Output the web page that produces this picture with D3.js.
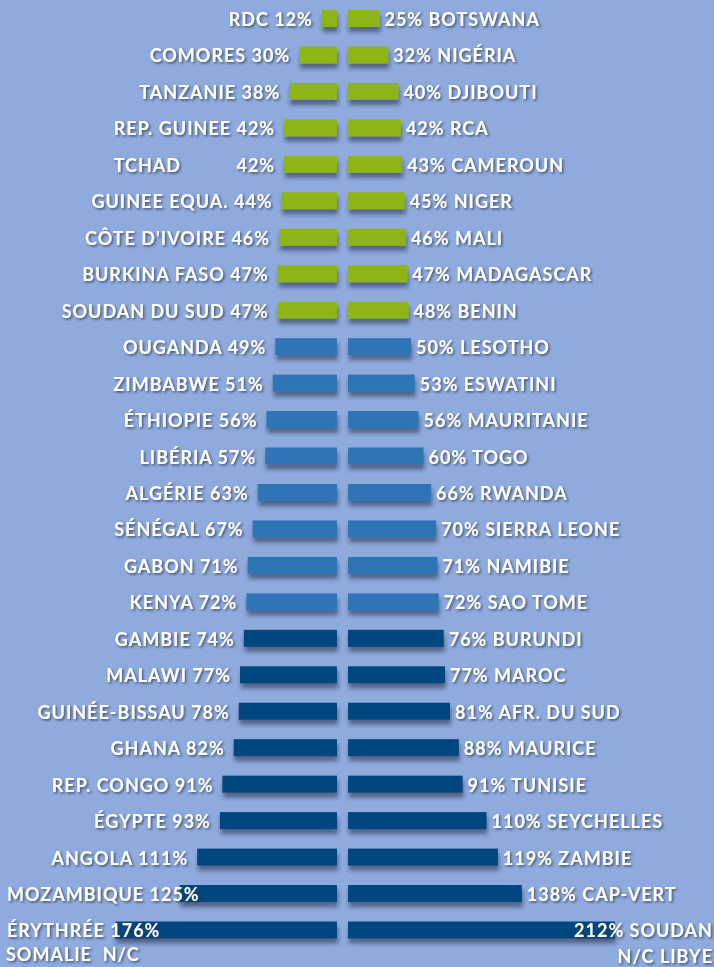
<!DOCTYPE html>
<html><head><meta charset="utf-8">
<script src="https://cdn.jsdelivr.net/npm/d3@7"></script>
<style>
html,body{margin:0;padding:0;background:#8FAADC;overflow:hidden}
svg{display:block}
text{font-family:"Lato","Open Sans",sans-serif;font-weight:700;fill:#fff;letter-spacing:1px}
</style></head><body>
<svg id="c" width="714" height="967"></svg>
<script>
const leftNames = ["RDC","COMORES","TANZANIE","REP. GUINEE","TCHAD","GUINEE EQUA.","CÔTE D'IVOIRE","BURKINA FASO","SOUDAN DU SUD","OUGANDA","ZIMBABWE","ÉTHIOPIE","LIBÉRIA","ALGÉRIE","SÉNÉGAL","GABON","KENYA","GAMBIE","MALAWI","GUINÉE-BISSAU","GHANA","REP. CONGO","ÉGYPTE","ANGOLA","MOZAMBIQUE","ÉRYTHRÉE"];
const leftValues = [12,30,38,42,42,44,46,47,47,49,51,56,57,63,67,71,72,74,77,78,82,91,93,111,125,176];
const rightNames = ["BOTSWANA","NIGÉRIA","DJIBOUTI","RCA","CAMEROUN","NIGER","MALI","MADAGASCAR","BENIN","LESOTHO","ESWATINI","MAURITANIE","TOGO","RWANDA","SIERRA LEONE","NAMIBIE","SAO TOME","BURUNDI","MAROC","AFR. DU SUD","MAURICE","TUNISIE","SEYCHELLES","ZAMBIE","CAP-VERT","SOUDAN"];
const rightValues = [25,32,40,42,43,45,46,47,48,50,53,56,60,66,70,71,72,76,77,81,88,91,110,119,138,212];
const missingLeft = "SOMALIE  N/C";
const missingRight = "N/C LIBYE";
const groupBreaks = [48.5, 73];
const groupColors = ["#8DB514","#2E75B6","#00467F"];

const svg = d3.select("#c");
const defs = svg.append("defs");
const fb = defs.append("filter").attr("id","barShadow").attr("x","-10%").attr("y","-50%").attr("width","120%").attr("height","250%");
fb.append("feDropShadow").attr("dx",1).attr("dy",5).attr("stdDeviation",2.2).attr("flood-color","#1d2a45").attr("flood-opacity",0.55);
const ft = defs.append("filter").attr("id","txtShadow").attr("x","-10%").attr("y","-30%").attr("width","120%").attr("height","170%");
ft.append("feDropShadow").attr("dx",1.5).attr("dy",1.5).attr("stdDeviation",1).attr("flood-color","#2a3550").attr("flood-opacity",0.75);

const rows = d3.range(leftNames.length);
const y = d3.scalePoint().domain(rows).range([18.5, 930]);
const x = d3.scaleLinear().domain([0, 212]).range([0, 267]);
const color = d3.scaleThreshold().domain(groupBreaks).range(groupColors);
const axisL = 337, axisR = 348, barH = 17;
const fs = 18;

const left = rows.map(i => ({name:leftNames[i], v:leftValues[i], i}));
const right = rows.map(i => ({name:rightNames[i], v:rightValues[i], i}));

// bars
svg.append("g").attr("filter","url(#barShadow)").selectAll("rect").data(left).join("rect")
  .attr("x", d => axisL - x(d.v)).attr("y", d => y(d.i) - barH/2)
  .attr("width", d => x(d.v)).attr("height", barH)
  .attr("fill", d => color(d.v));
svg.append("g").attr("filter","url(#barShadow)").selectAll("rect").data(right).join("rect")
  .attr("x", axisR).attr("y", d => y(d.i) - barH/2)
  .attr("width", d => x(d.v)).attr("height", barH)
  .attr("fill", d => color(d.v));

// labels
const gl = svg.append("g").attr("filter","url(#txtShadow)").style("font-size", fs+"px");
const starts = [];
left.forEach(d => {
  const isTchad = d.name === "TCHAD";
  const t = gl.append("text").attr("y", y(d.i) + 1).attr("dy","0.36em")
    .text(isTchad ? d.v + "%" : d.name + " " + d.v + "%");
  const w = t.node().getComputedTextLength();
  let end = axisL - x(d.v) - 9;
  let start = end - w;
  if (start < 7) { start = 7; }
  t.attr("x", start);
  starts[d.i] = start;
  if (isTchad) {
    gl.append("text").attr("y", y(d.i) + 1).attr("dy","0.36em").attr("x", starts[d.i-1]).text(d.name);
  }
});
right.forEach(d => {
  const t = gl.append("text").attr("y", y(d.i) + 1).attr("dy","0.36em")
    .text(d.v + "% " + d.name);
  const w = t.node().getComputedTextLength();
  let start = axisR + x(d.v) + 5;
  if (start + w > 713) start = 713 - w;
  t.attr("x", start);
});
gl.append("text").attr("x", 6).attr("y", 961).attr("xml:space","preserve").style("white-space","pre").text(missingLeft);
gl.append("text").attr("x", 713).attr("y", 963).attr("text-anchor","end").text(missingRight);
</script>
</body></html>
